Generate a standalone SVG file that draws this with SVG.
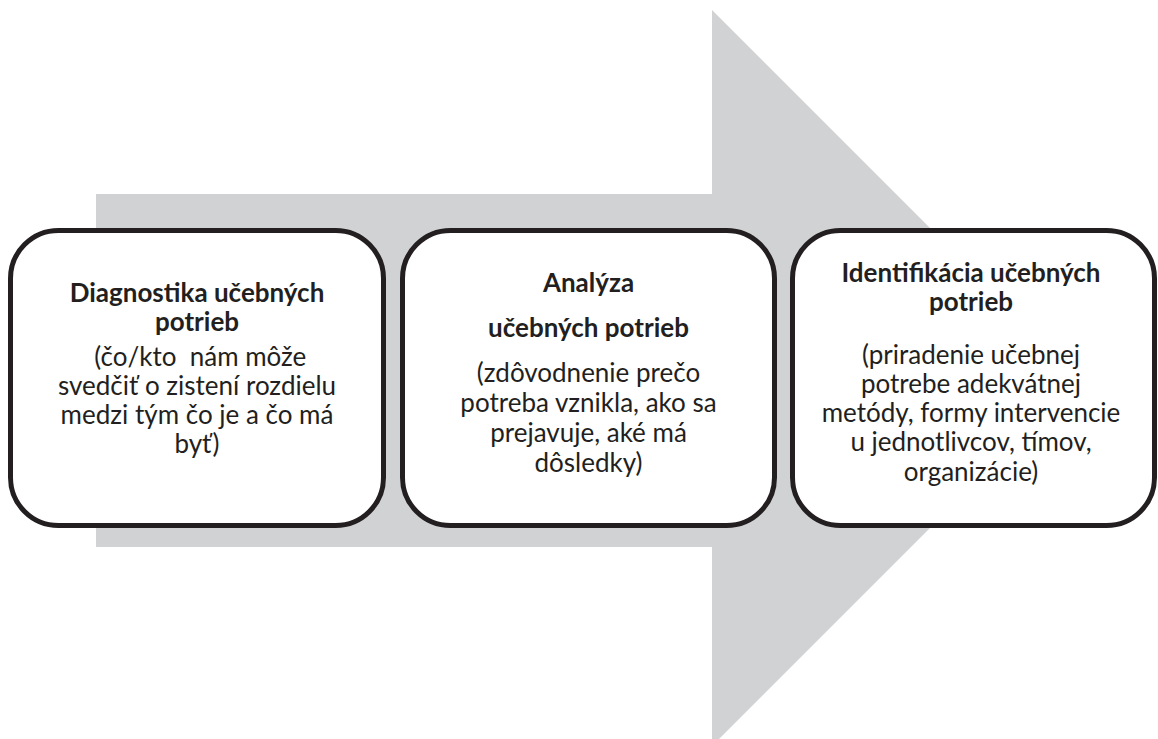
<svg xmlns="http://www.w3.org/2000/svg" width="1158" height="739" viewBox="0 0 1158 739">
  <style>
    .box { fill: #ffffff; stroke: #231f20; stroke-width: 5; }
    .title { font-family: Lato, "Open Sans", sans-serif; font-weight: bold; font-size: 26px; fill: #231f20; text-anchor: middle; }
    .body { font-family: Lato, "Open Sans", sans-serif; font-size: 26px; fill: #231f20; text-anchor: middle; }
  </style>
  <rect width="1158" height="739" fill="#ffffff"/>
  <!-- big background arrow -->
  <g id="connectors">
    <polygon points="96,194 712,194 712,10 1080,378 712,746 712,547 96,547" fill="#d1d2d4"/>
  </g>
  <g id="node-diagnostika">
    <rect class="box" x="10.5" y="230.5" width="373" height="295" rx="48" ry="48"/>
    <text class="title"><tspan x="197" y="302">Diagnostika učebných</tspan><tspan x="197" y="331">potrieb</tspan></text>
    <text class="body" xml:space="preserve"><tspan x="197" y="366"> (čo/kto  nám môže</tspan><tspan x="197" y="395">svedčiť o zistení rozdielu</tspan><tspan x="197" y="424">medzi tým čo je a čo má</tspan><tspan x="197" y="453">byť)</tspan></text>
  </g>
  <g id="node-analyza">
    <rect class="box" x="402.5" y="230.5" width="372" height="295" rx="48" ry="48"/>
    <text class="title" x="588.5" y="292">Analýza</text>
    <text class="title" x="588.5" y="337">učebných potrieb</text>
    <text class="body"><tspan x="588.5" y="382">(zdôvodnenie prečo</tspan><tspan x="588.5" y="412">potreba vznikla, ako sa</tspan><tspan x="588.5" y="442">prejavuje, aké má</tspan><tspan x="588.5" y="472">dôsledky)</tspan></text>
  </g>
  <g id="node-identifikacia">
    <rect class="box" x="792.5" y="230.5" width="362" height="295" rx="48" ry="48"/>
    <text class="title"><tspan x="971" y="282">Identifikácia učebných</tspan><tspan x="971" y="311">potrieb</tspan></text>
    <text class="body"><tspan x="971" y="364">(priradenie učebnej</tspan><tspan x="971" y="393">potrebe adekvátnej</tspan><tspan x="971" y="422">metódy, formy intervencie</tspan><tspan x="971" y="451">u jednotlivcov, tímov,</tspan><tspan x="971" y="481">organizácie)</tspan></text>
  </g>
</svg>
